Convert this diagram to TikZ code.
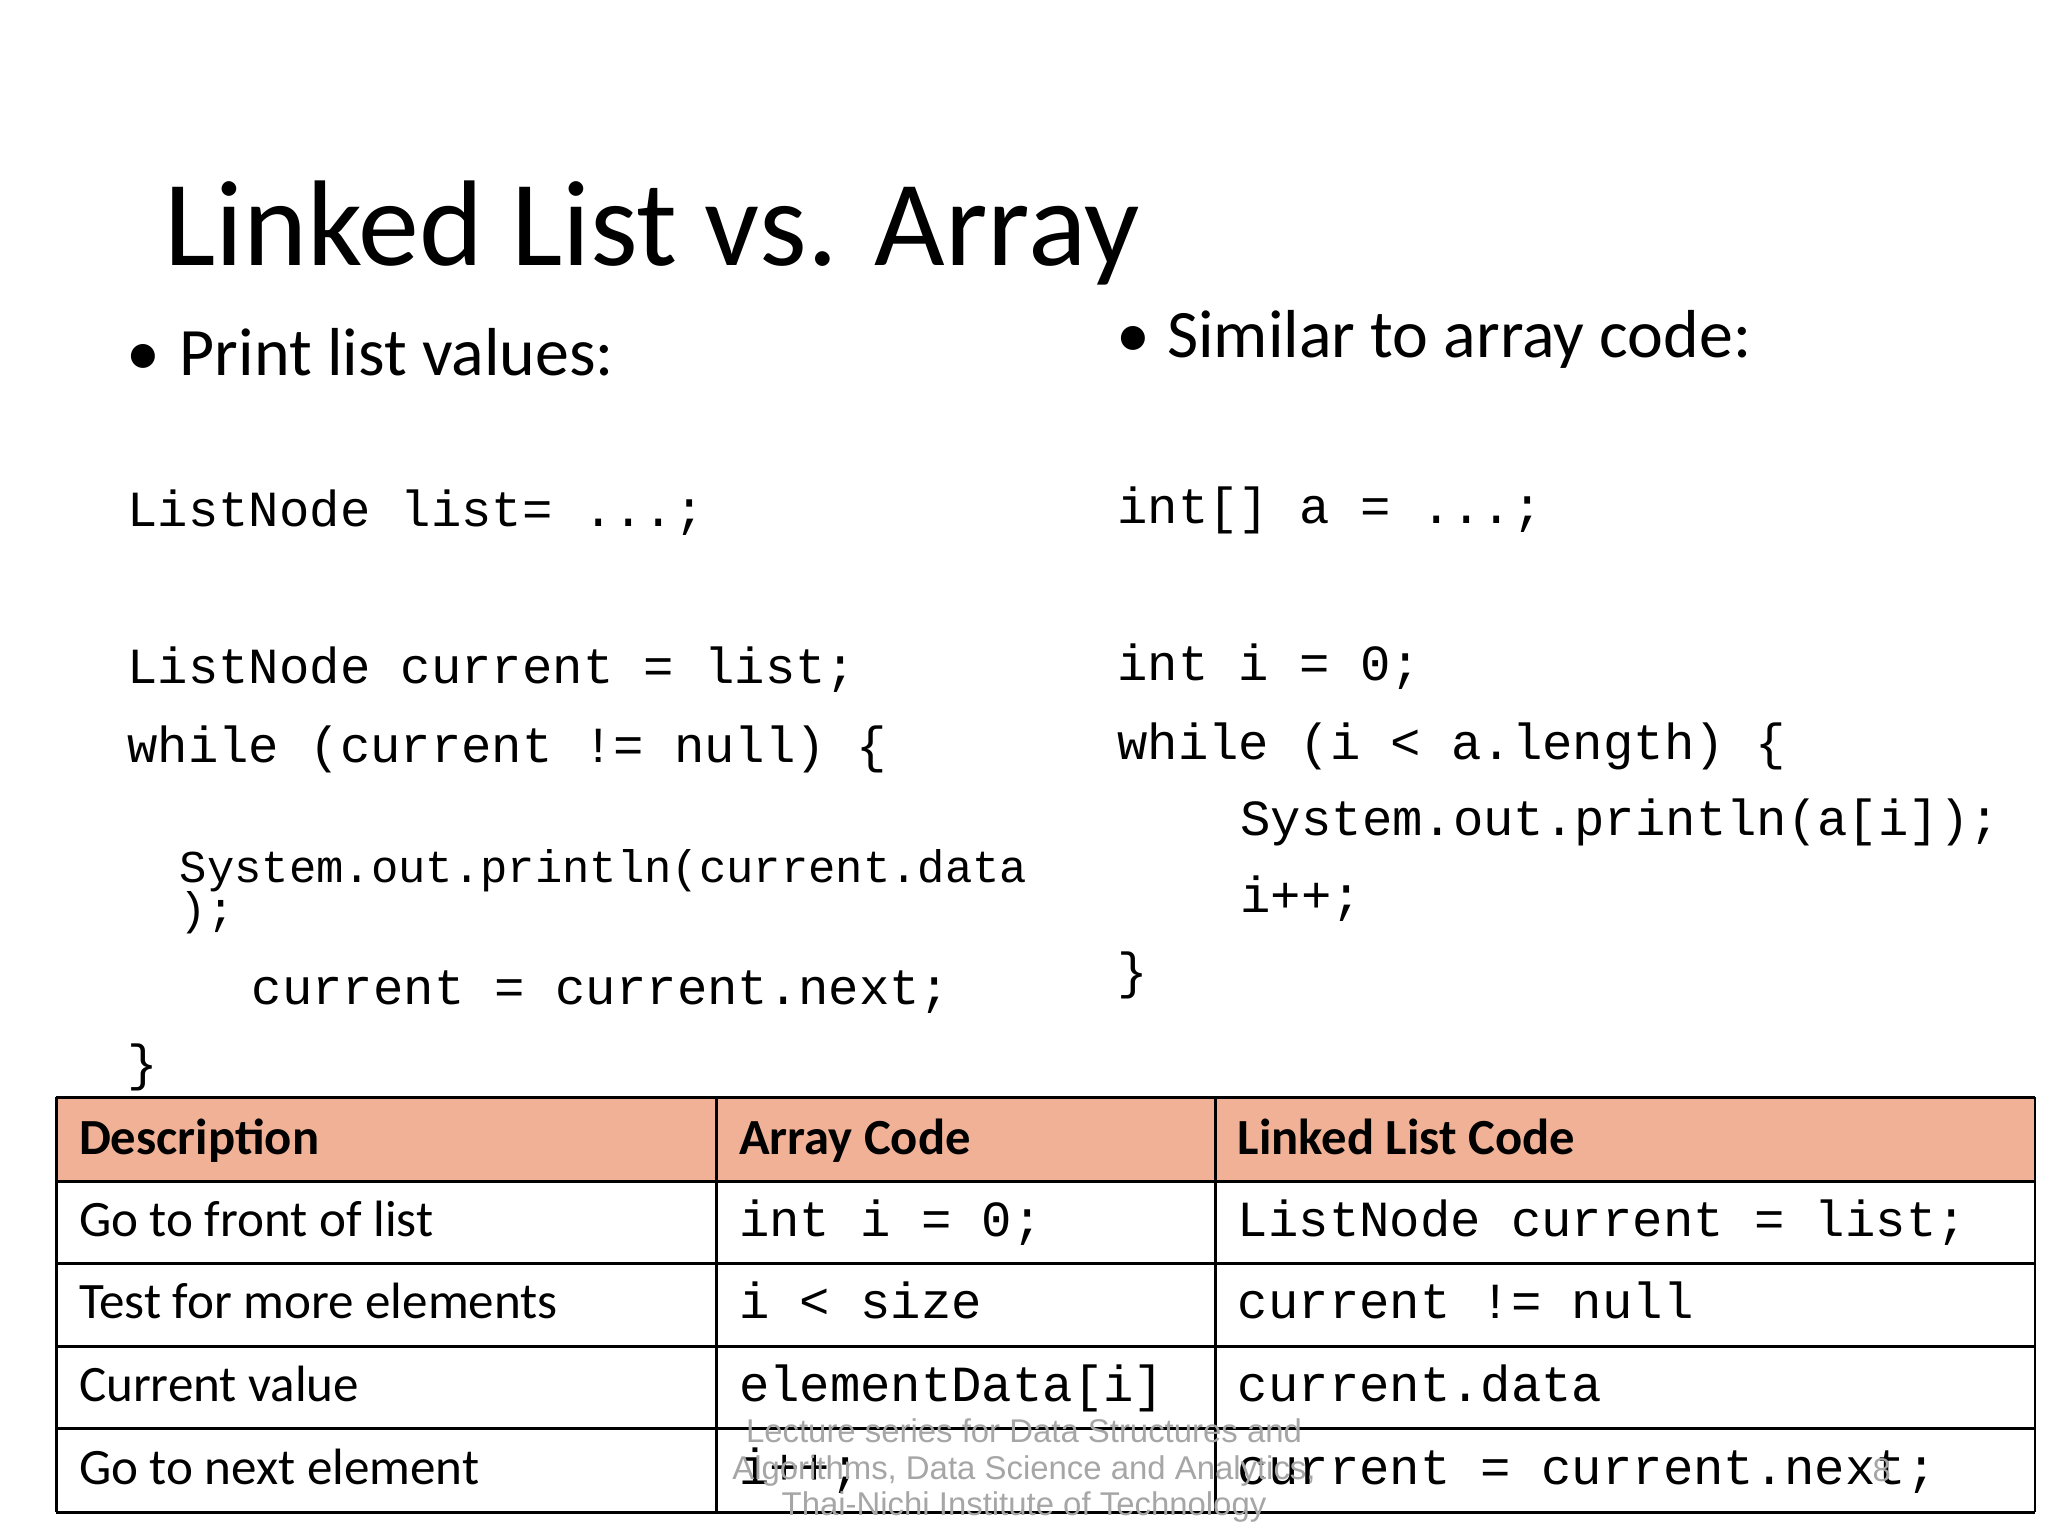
\documentclass[tikz,border=0pt]{standalone}
\usepackage{fontspec}
\setmainfont{Carlito}
\newfontfamily\codefont{Liberation Mono}
\newfontfamily\footfont{Liberation Sans}
\definecolor{headfill}{RGB}{240,177,150}
\tikzset{
  code/.style={anchor=base west, inner sep=0pt, font=\codefont\fontsize{22}{26}\selectfont},
  smallcode/.style={anchor=base west, inner sep=0pt, font=\codefont\fontsize{19.8}{24}\selectfont},
  bullet/.style={anchor=base west, inner sep=0pt, font=\fontsize{29.5}{36}\selectfont},
  cell/.style={anchor=base west, inner sep=0pt, font=\fontsize{22.2}{27}\selectfont},
  headcell/.style={cell, font=\bfseries\fontsize{22}{27}\selectfont},
  foot/.style={inner sep=0pt, text=gray!70, align=center, font=\footfont\fontsize{14.3}{16}\selectfont}
}
\begin{document}
\begin{tikzpicture}[x=0.02cm,y=-0.02cm]
\useasboundingbox (0,0) rectangle (1564,1172);
% title and bullets
\node[anchor=base west, inner sep=0pt, font=\fontsize{53}{60}\selectfont] (title) at (125,203) {Linked List vs. Array};
\node[bullet] (dotl) at (96,287) {\textbullet};
\node[bullet] (bl) at (137,287) {Print list values:};
\node[bullet] (dotr) at (852,273) {\textbullet};
\node[bullet] (br) at (891,273) {Similar to array code:};
% left code
\node[code] (l1) at (97,402) {ListNode list= ...;};
\node[code] (l2) at (97,522) {ListNode current = list;};
\node[code] (l3) at (97,582) {while (current != null) \{};
\node[smallcode] (l4) at (137,674) {System.out.println(current.data};
\node[smallcode] (l5) at (137,706) {);};
\node[code] (l6) at (192,767) {current = current.next;};
\node[code] (l7) at (97,825) {\}};
% right code
\node[code] (r1) at (853,400) {int[] a = ...;};
\node[code] (r2) at (853,520) {int i = 0;};
\node[code] (r3) at (853,580) {while (i < a.length) \{};
\node[code] (r4) at (947,638) {System.out.println(a[i]);};
\node[code] (r5) at (947,697) {i++;};
\node[code] (r6) at (853,755) {\}};
% table
\fill[headfill] (43,838) rectangle (1554,902);
\foreach \y in {838,902,965,1028,1091,1155}
  \draw[line width=1.2pt] (43,\y) -- (1554,\y);
\foreach \x in {43,547,928,1554}
  \draw[line width=1.2pt] (\x,838) -- (\x,1155);
\node[headcell] (h1) at (60,882) {Description};
\node[headcell] (h2) at (564,882) {Array Code};
\node[headcell] (h3) at (945,882) {Linked List Code};
\node[cell] (a1) at (60,944) {Go to front of list};
\node[code] (a2) at (564,944) {int i = 0;};
\node[code] (a3) at (945,944) {ListNode current = list;};
\node[cell] (b1) at (60,1007) {Test for more elements};
\node[code] (b2) at (564,1007) {i < size};
\node[code] (b3) at (945,1007) {current != null};
\node[cell] (c1) at (60,1070) {Current value};
\node[code] (c2) at (564,1070) {elementData[i]};
\node[code] (c3) at (945,1070) {current.data};
\node[cell] (d1) at (60,1134) {Go to next element};
\node[code] (d2) at (564,1134) {i++;};
\node[code] (d3) at (945,1134) {current = current.next;};
% footer
\node[foot] (ft) at (782,1123) {Lecture series for Data Structures and\\Algorithms, Data Science and Analytics,\\Thai-Nichi Institute of Technology};
\node[foot] (pg) at (1437,1123) {8};
\end{tikzpicture}
\end{document}
